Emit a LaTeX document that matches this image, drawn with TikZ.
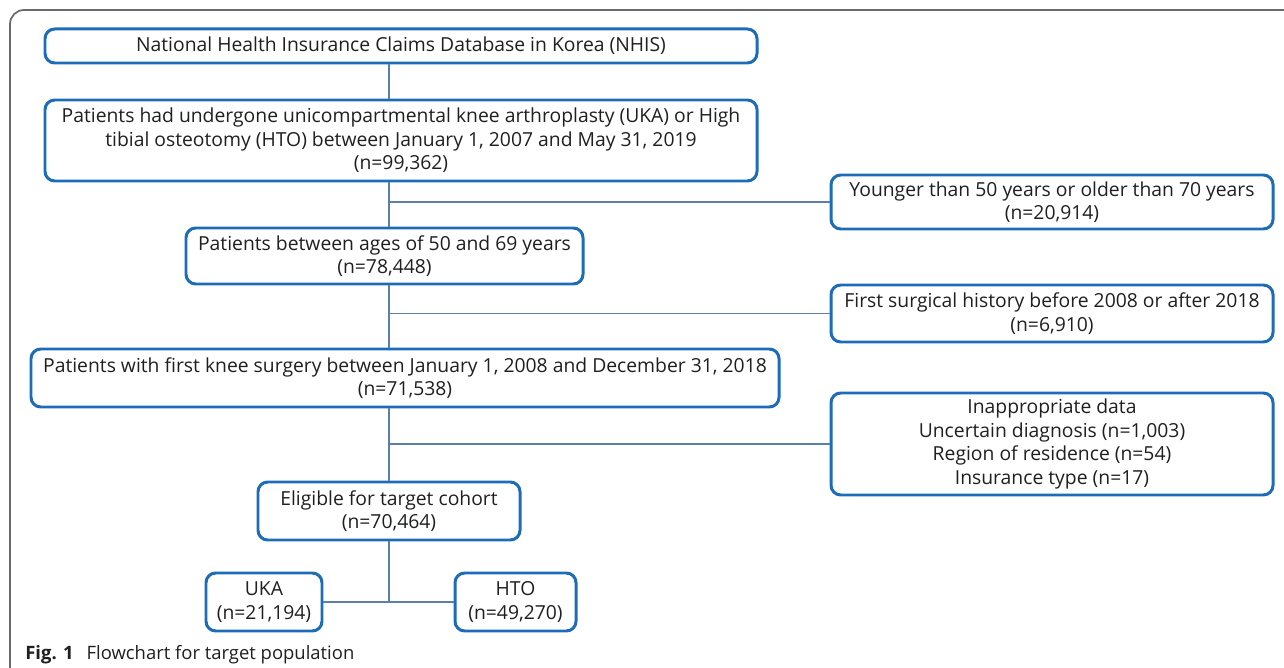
\documentclass[tikz,border=0pt]{standalone}
\usepackage{fontspec}
\setmainfont{Open Sans}
\usetikzlibrary{positioning}
\usetikzlibrary{calc}

\begin{document}
\begin{tikzpicture}[x=0.02cm, y=-0.02cm]
    \colorlet{frameline}{black!58}
\definecolor{boxborder}{HTML}{1C6CB8}
\definecolor{linkline}{HTML}{5C7FA9}
\colorlet{textcol}{black!88}

\newcommand\pix{0.02}

\clip (0, 0) rectangle (1284, 668);

\tikzset{
    flow box/.style={
        draw=boxborder, line width=1.7pt, rectangle,
        rounded corners=5.5pt,
        align=center, text=textcol,
        font=\fontsize{11}{13.4}\selectfont,
        inner sep=0pt,
    },
    link/.style={
        draw=linkline, line width=0.9pt,
    },
}

% outer frame, runs off the page at right and bottom
\draw[frameline, line width=1pt, rounded corners=8pt]
    (10, 700) -- (10, 10) -- (1320, 10);

% main column
\node[flow box, minimum width={712 * \pix cm}, minimum height={34 * \pix cm}]
    at (401, 46) (nhis)
    {National Health Insurance Claims Database in Korea (NHIS)};
\node[flow box, minimum width={712 * \pix cm}, minimum height={81 * \pix cm}]
    at (401, 140.5) (ukahto)
    {Patients had undergone unicompartmental knee arthroplasty (UKA) or High\\
     tibial osteotomy (HTO) between January 1, 2007 and May 31, 2019\\
     (n=99,362)};
\node[flow box, minimum width={397 * \pix cm}, minimum height={56 * \pix cm}]
    at (384.5, 256) (age)
    {Patients between ages of 50 and 69 years\\(n=78,448)};
\node[flow box, minimum width={748 * \pix cm}, minimum height={58 * \pix cm}]
    at (405, 378) (knee)
    {Patients with first knee surgery between January 1, 2008 and December 31, 2018\\(n=71,538)};
\node[flow box, minimum width={262 * \pix cm}, minimum height={58 * \pix cm}]
    at (389, 511) (elig)
    {Eligible for target cohort\\(n=70,464)};

% split
\node[flow box, minimum width={116 * \pix cm}, minimum height={58 * \pix cm}]
    at (264, 602) (uka)
    {UKA\\(n=21,194)};
\node[flow box, minimum width={121 * \pix cm}, minimum height={58 * \pix cm}]
    at (515.5, 602) (hto)
    {HTO\\(n=49,270)};

% exclusions
\node[flow box, minimum width={442 * \pix cm}, minimum height={54 * \pix cm}]
    at (1052, 202) (younger)
    {Younger than 50 years or older than 70 years\\(n=20,914)};
\node[flow box, minimum width={442 * \pix cm}, minimum height={57 * \pix cm}]
    at (1052, 313.5) (history)
    {First surgical history before 2008 or after 2018\\(n=6,910)};
\node[flow box, minimum width={442 * \pix cm}, minimum height={102 * \pix cm}]
    at (1052, 444) (inapp)
    {Inappropriate data\\Uncertain diagnosis (n=1,003)\\
     Region of residence (n=54)\\Insurance type (n=17)};

% trunk
\draw[link] (nhis.south -| elig.north) -- (ukahto.north -| elig.north);
\draw[link] (ukahto.south -| elig.north) -- (age.north -| elig.north);
\draw[link] (age.south -| elig.north) -- (knee.north -| elig.north);
\draw[link] (knee.south -| elig.north) -- (elig.north);
\draw[link] (elig.south) -- (elig.south |- uka.east);

\draw[link] (younger.west) -- (younger.west -| elig.north);
\draw[link] (history.west) -- (history.west -| elig.north);
\draw[link] (inapp.west) -- (inapp.west -| elig.north);
\draw[link] (uka.east) -- (hto.west);

\node[anchor=base west, text=textcol, inner sep=0pt,
      font=\fontsize{10.5}{13}\selectfont]
    at (25, 659) (caption)
    {\textbf{Fig. 1}\hspace{0.7em}Flowchart for target population};
\end{tikzpicture}
\end{document}
